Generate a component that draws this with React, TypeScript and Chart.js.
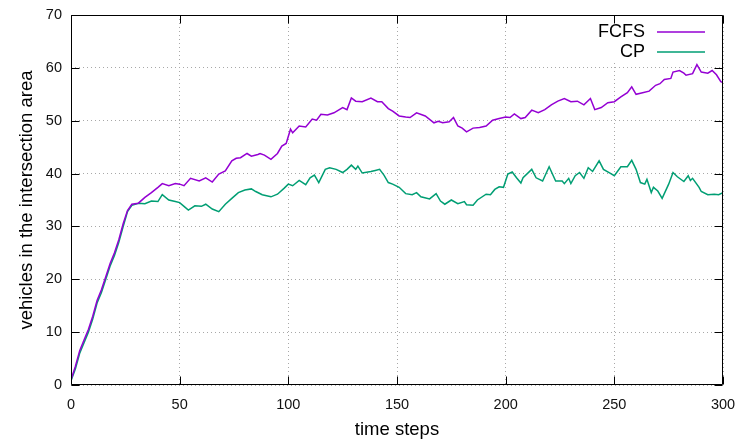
import React, { useEffect, useRef } from "react";
import { Chart, registerables } from "chart.js";

Chart.register(...registerables);

const seriesLabels = ["FCFS", "CP"];
const seriesColors = ["#9400d3", "#009e73"];

const fcfsSteps = [
  0, 2, 4, 6, 8, 10, 12, 14, 16, 18, 20, 22, 24, 26, 28, 31, 34, 37, 40, 42, 45, 48, 50, 52, 55, 59, 62, 65, 68, 71,
  74, 76, 78, 81, 83, 86, 87, 89, 92, 95, 97, 99, 101, 102, 105, 108, 111, 113, 115, 118, 121, 125, 127, 129, 131,
  134, 138, 141, 143, 146, 148, 151, 154, 156, 159, 163, 167, 169, 171, 174, 176, 178, 180, 182, 185, 188, 191, 194,
  197, 200, 202, 204, 207, 209, 212, 215, 218, 221, 224, 227, 230, 233, 236, 239, 241, 244, 247, 250, 253, 256, 258,
  260, 263, 266, 269, 271, 273, 276, 277, 280, 282, 283, 286, 288, 290, 293, 295, 297, 299, 300,
];
const fcfsValues = [
  1, 3.5, 6.5, 8.5, 10.5, 13, 16, 18, 20.5, 23, 25, 27.5, 30.5, 33, 34.2, 34.4, 35.5, 36.4, 37.4, 38.1, 37.7, 38.1, 38,
  37.7, 39.1, 38.6, 39.2, 38.4, 39.9, 40.5, 42.4, 42.9, 43, 43.8, 43.3, 43.6, 43.8, 43.5, 42.7, 43.8, 45.2, 45.7, 48.4,
  47.7, 49, 48.8, 50.3, 50.1, 51.2, 51.1, 51.5, 52.5, 52.1, 54.3, 53.7, 53.6, 54.3, 53.6, 53.6, 52.3, 51.8, 50.9, 50.7,
  50.6, 51.5, 50.9, 49.6, 49.9, 49.6, 49.8, 50.6, 49, 48.6, 47.9, 48.6, 48.7, 49, 50.1, 50.4, 50.7, 50.6, 51.3, 50.4,
  50.6, 52, 51.5, 52.1, 53, 53.7, 54.2, 53.6, 53.7, 53, 54.2, 52.1, 52.5, 53.4, 53.6, 54.5, 55.3, 56.4, 55, 55.3, 55.6,
  56.7, 57, 57.8, 58, 59.2, 59.5, 59, 58.6, 58.9, 60.6, 59.2, 59, 59.5, 58.7, 57.4, 57.2,
];

const cpSteps = [
  0, 2, 4, 6, 8, 10, 12, 14, 16, 18, 20, 22, 24, 26, 28, 31, 34, 37, 40, 42, 45, 48, 50, 52, 54, 57, 60, 62, 65, 68,
  71, 74, 77, 80, 83, 85, 88, 90, 92, 95, 98, 100, 102, 105, 108, 110, 112, 114, 117, 119, 122, 125, 127, 129, 131,
  132, 134, 138, 140, 142, 144, 146, 148, 151, 154, 157, 159, 161, 165, 168, 170, 172, 175, 178, 181, 182, 185, 187,
  191, 193, 195, 197, 199, 201, 203, 205, 207, 208, 212, 214, 217, 220, 223, 226, 227, 229, 230, 232, 234, 236, 238,
  240, 243, 245, 248, 250, 253, 256, 258, 260, 262, 264, 265, 267, 268, 270, 272, 275, 277, 279, 282, 284, 285, 286,
  289, 290, 293, 296, 298, 300,
];
const cpValues = [
  0.8, 3, 6, 8, 10, 12.5, 15.5, 17.5, 20, 22.5, 24.5, 27, 30, 32.8, 34, 34.4, 34.3, 34.8, 34.7, 36, 35, 34.7, 34.5,
  33.8, 33.1, 33.9, 33.8, 34.2, 33.3, 32.8, 34.2, 35.3, 36.4, 36.9, 37.1, 36.6, 36, 35.8, 35.6, 36.1, 37.2, 38, 37.7,
  38.7, 37.9, 39.2, 39.7, 38.3, 40.8, 41.1, 40.8, 40.2, 40.8, 41.6, 40.8, 41.4, 40.1, 40.4, 40.6, 40.8, 39.7, 38.3, 38,
  37.4, 36.2, 36, 36.4, 35.6, 35.2, 36.2, 34.8, 34.2, 35, 34.3, 34.7, 34.1, 34, 35, 36.1, 36, 37, 37.5, 37.4, 39.9,
  40.3, 39.2, 38.2, 39.2, 40.8, 39.2, 38.6, 41.3, 38.6, 38.6, 38.1, 39.1, 38.1, 39.6, 40.2, 39.1, 41.1, 40.4, 42.4,
  40.8, 40.1, 39.6, 41.3, 41.3, 42.5, 40.8, 38.3, 38, 38.9, 36.4, 37.4, 36.7, 35.3, 38, 40.2, 39.4, 38.5, 39.6, 38.7,
  39.1, 37.4, 36.6, 36, 36.1, 36, 36.4,
];

const xTickValues = [0, 50, 100, 150, 200, 250, 300];
const yTickValues = [0, 10, 20, 30, 40, 50, 60, 70];
const xTitle = "time steps";
const yTitle = "vehicles in the intersection area";

const FONT = "'Liberation Sans', Arial, sans-serif";

const frameAndLegend = {
  id: "frameAndLegend",
  beforeDatasetsDraw(chart: any) {
    const ctx = chart.ctx;
    const { top, right } = chart.chartArea;
    ctx.save();
    ctx.fillStyle = "#ffffff";
    ctx.fillRect(right - 136, top + 1, 128, 46);
    ctx.restore();
  },
  afterDraw(chart: any) {
    const ctx = chart.ctx;
    const { left, right, top, bottom } = chart.chartArea;
    const xs = chart.scales.x;
    const ys = chart.scales.y;
    ctx.save();
    ctx.strokeStyle = "#000000";
    ctx.lineWidth = 1;
    const L = Math.round(left) + 0.5;
    const R = Math.round(right) - 0.5;
    const T = Math.round(top) + 0.5;
    const B = Math.round(bottom) - 0.5;
    ctx.beginPath();
    ctx.rect(L, T, R - L, B - T);
    ctx.stroke();
    const tl = 8;
    ctx.beginPath();
    xTickValues.forEach((v) => {
      const px = Math.round(xs.getPixelForValue(v)) + 0.5;
      ctx.moveTo(px, B);
      ctx.lineTo(px, B - tl);
      ctx.moveTo(px, T);
      ctx.lineTo(px, T + tl);
    });
    yTickValues.forEach((v) => {
      const py = Math.round(ys.getPixelForValue(v)) + 0.5;
      ctx.moveTo(L, py);
      ctx.lineTo(L + tl, py);
      ctx.moveTo(R, py);
      ctx.lineTo(R - tl, py);
    });
    ctx.stroke();

    // legend (gnuplot style: text then line sample)
    ctx.font = `18px ${FONT}`;
    ctx.textAlign = "right";
    ctx.textBaseline = "middle";
    chart.data.datasets.forEach((ds: any, i: number) => {
      const y = top + 17 + i * 20;
      ctx.fillStyle = "#000000";
      ctx.fillText(ds.label, right - 78, y);
      ctx.strokeStyle = ds.borderColor;
      ctx.lineWidth = 1.5;
      ctx.beginPath();
      ctx.moveTo(right - 66, y);
      ctx.lineTo(right - 18, y);
      ctx.stroke();
    });
    ctx.restore();
  },
};

export default function App() {
  const ref = useRef<HTMLCanvasElement | null>(null);

  useEffect(() => {
    if (!ref.current) return;
    const makeData = (steps: number[], values: number[]) => steps.map((s, i) => ({ x: s, y: values[i] }));
    const chart = new Chart(ref.current, {
      type: "line",
      data: {
        datasets: [
          {
            label: seriesLabels[0],
            data: makeData(fcfsSteps, fcfsValues),
            borderColor: seriesColors[0],
            backgroundColor: seriesColors[0],
            borderWidth: 1.5,
            pointRadius: 0,
            tension: 0,
            fill: false,
          },
          {
            label: seriesLabels[1],
            data: makeData(cpSteps, cpValues),
            borderColor: seriesColors[1],
            backgroundColor: seriesColors[1],
            borderWidth: 1.5,
            pointRadius: 0,
            tension: 0,
            fill: false,
          },
        ],
      },
      options: {
        responsive: false,
        animation: false,
        layout: { padding: { top: 15, right: 14, left: 0, bottom: 0 } },
        plugins: { legend: { display: false }, tooltip: { enabled: false } },
        scales: {
          x: {
            type: "linear",
            min: 0,
            max: 300,
            afterBuildTicks: (scale: any) => {
              scale.ticks = xTickValues.map((v) => ({ value: v }));
            },
            afterFit: (scale: any) => {
              scale.height = 57;
              scale.paddingLeft = 0;
              scale.paddingRight = 0;
            },
            ticks: {
              padding: 11,
              color: "#111111",
              font: { family: FONT, size: 14.5 },
              maxRotation: 0,
              autoSkip: false,
            },
            grid: { color: "#a8a8a8", lineWidth: 1, drawTicks: false },
            border: { display: false, dash: [1, 3] },
            title: {
              display: true,
              text: xTitle,
              color: "#000000",
              font: { family: FONT, size: 18.5 },
              padding: { top: 0, bottom: 1 },
            },
          },
          y: {
            type: "linear",
            min: 0,
            max: 70,
            afterBuildTicks: (scale: any) => {
              scale.ticks = yTickValues.map((v) => ({ value: v }));
            },
            afterFit: (scale: any) => {
              scale.width = 71;
              scale.paddingTop = 0;
              scale.paddingBottom = 0;
            },
            ticks: {
              padding: 9,
              color: "#111111",
              font: { family: FONT, size: 14.5 },
              autoSkip: false,
            },
            grid: { color: "#a8a8a8", lineWidth: 1, drawTicks: false },
            border: { display: false, dash: [1, 3] },
            title: {
              display: true,
              text: yTitle,
              color: "#000000",
              font: { family: FONT, size: 18.5 },
              padding: { top: 16, bottom: 0 },
            },
          },
        },
      },
      plugins: [frameAndLegend],
    });
    return () => chart.destroy();
  }, []);

  return (
    <div style={{ position: "absolute", left: 0, top: 0, width: 737, height: 442, background: "#fff" }}>
      <canvas ref={ref} width={737} height={442} style={{ display: "block", width: 737, height: 442 }} />
    </div>
  );
}
